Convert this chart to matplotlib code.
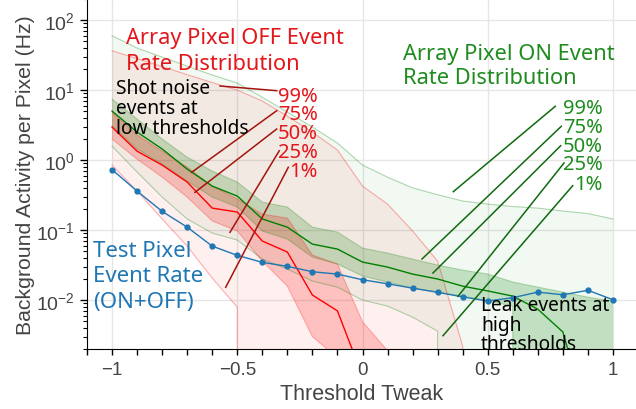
import matplotlib
matplotlib.use("Agg")
import matplotlib.pyplot as plt

# threshold tweak values (x)
threshold = [-1.0, -0.9, -0.8, -0.7, -0.6, -0.5, -0.4, -0.3, -0.2, -0.1, 0.0,
             0.1, 0.2, 0.3, 0.4, 0.5, 0.6, 0.7, 0.8, 0.9, 1.0]

# test pixel rate (ON+OFF), Hz
test_pixel = [0.73, 0.36, 0.185, 0.110, 0.059, 0.0435, 0.0346, 0.0303, 0.0254, 0.0235, 0.0195,
              0.0171, 0.0148, 0.0129, 0.0111, 0.0097, 0.0108, 0.0130, 0.0119, 0.0138, 0.0101]

# array pixel OFF event rate percentiles
off_p99 = [36.4, 28.2, 21.7, 16.6, 12.8, 10.0, 6.97, 4.25, 2.51, 1.39, 0.425,
           0.235, 0.097, 0.036, 0.0022, 0, 0, 0, 0, 0, 0]
off_p75 = [4.85, 2.28, 1.34, 0.794, 0.425, 0.277, 0.169, 0.148, 0.044, 0.0327, 0.0049,
           0.0019, 0, 0, 0, 0, 0, 0, 0, 0, 0]
off_p50 = [2.96, 1.34, 0.849, 0.485, 0.206, 0.181, 0.0697, 0.0485, 0.0118, 0.0070, 0.00082,
           0, 0, 0, 0, 0, 0, 0, 0, 0, 0]
off_p25 = [2.0, 1.03, 0.571, 0.296, 0.135, 0.097, 0.036, 0.0158, 0.0030, 0.0015, 0,
           0, 0, 0, 0, 0, 0, 0, 0, 0, 0]
off_p1 = [0.849, 0.36, 0.144, 0.059, 0.0206, 0.0079, 0, 0, 0, 0, 0,
          0, 0, 0, 0, 0, 0, 0, 0, 0, 0]

# array pixel ON event rate percentiles
on_p99 = [59.7, 39.8, 29.6, 22.0, 16.4, 12.6, 7.9, 4.85, 2.96, 1.75, 0.85,
          0.57, 0.40, 0.32, 0.26, 0.235, 0.217, 0.206, 0.187, 0.172, 0.144]
on_p75 = [7.43, 3.85, 2.0, 1.10, 0.697, 0.485, 0.251, 0.213, 0.110, 0.0936, 0.0553,
          0.0469, 0.0385, 0.0316, 0.0268, 0.0235, 0.0181, 0.0153, 0.0130, 0.0110, 0.0097]
on_p50 = [5.01, 2.51, 1.44, 0.744, 0.425, 0.306, 0.144, 0.110, 0.063, 0.0535, 0.0349,
          0.0296, 0.0235, 0.020, 0.0158, 0.0135, 0.0114, 0.0074, 0.0035, 0.0002, 0]
on_p25 = [3.06, 1.44, 0.877, 0.50, 0.296, 0.213, 0.097, 0.0743, 0.0411, 0.0327, 0.022,
          0.0181, 0.0148, 0.0130, 0.0114, 0.0097, 0.0082, 0, 0, 0, 0]
on_p1 = [1.58, 0.674, 0.296, 0.144, 0.0906, 0.072, 0.0385, 0.0277, 0.0187, 0.0153, 0.010,
         0.0082, 0.0057, 0.0036, 0, 0, 0, 0, 0, 0, 0]

GREEN = "#008000"
RED = "#ff0000"
BLUE = "#1f77b4"
OFF_TXT = "#e3161b"
ON_TXT = "#1e8c1e"
OFF_ANN = "#a3140c"
ON_ANN = "#0f6a0f"
GREY = "#444444"

plt.rcParams["font.family"] = ["Liberation Sans", "DejaVu Sans"]
plt.rcParams["mathtext.fontset"] = "custom"
plt.rcParams["mathtext.rm"] = "Liberation Sans"


def ref(xp, yp):
    # pixel position in the 636x410 reference -> axes fraction
    return ((xp - 87) / 549, (350 - yp) / 350)


fig = plt.figure(figsize=(6.36, 4.10), dpi=100)
ax = fig.add_axes([87 / 636, 60 / 410, 549 / 636, 350 / 410])
ax.set_yscale("log", nonpositive="clip")

# ON distribution
ax.fill_between(threshold, on_p1, on_p99, color=GREEN, alpha=0.05, lw=0)
ax.fill_between(threshold, on_p25, on_p75, color=GREEN, alpha=0.2, lw=0)
for edge in (on_p1, on_p99):
    ax.plot(threshold, edge, color=GREEN, alpha=0.3, lw=0.8)
for edge in (on_p25, on_p75):
    ax.plot(threshold, edge, color=GREEN, alpha=0.25, lw=0.8)

# OFF distribution
ax.fill_between(threshold, off_p1, off_p99, color=RED, alpha=0.06, lw=0)
ax.fill_between(threshold, off_p25, off_p75, color=RED, alpha=0.2, lw=0)
for edge in (off_p1, off_p99):
    ax.plot(threshold, edge, color=RED, alpha=0.3, lw=0.8)
for edge in (off_p25, off_p75):
    ax.plot(threshold, edge, color=RED, alpha=0.25, lw=0.8)

ax.plot(threshold, on_p50, color=GREEN, lw=1.0)
ax.plot(threshold, off_p50, color=RED, lw=1.0)
ax.plot(threshold, test_pixel, color=BLUE, lw=1.0, marker="o", ms=3.5)

ax.set_xlim(-1.1, 1.092)
ax.set_ylim(0.002, 200)
ax.set_xticks([-1, -0.5, 0, 0.5, 1])
ax.set_xticklabels(["\u22121", "\u22120.5", "0", "0.5", "1"])
ax.set_xticks([i / 10 for i in range(-11, 11)], minor=True)
ax.tick_params(axis="x", which="both", length=4, width=1, labelsize=13.5, colors="black",
               labelcolor=GREY, pad=5)
ax.tick_params(axis="y", which="major", length=5, width=1, labelsize=14, labelcolor=GREY)
ax.tick_params(axis="y", which="minor", length=3, width=0.8)
ax.grid(True, which="major", color="#e6e6e6", lw=1)
ax.set_axisbelow(True)
ax.spines["right"].set_visible(False)
ax.spines["top"].set_color("#e6e6e6")
ax.set_xlabel("Threshold Tweak", fontsize=15.5, color=GREY, labelpad=3)
ax.set_ylabel("Background Activity per Pixel (Hz)", fontsize=15.3, color=GREY, labelpad=1)

tf = dict(transform=ax.transAxes, family=["Noto Sans", "DejaVu Sans"])
ax.text(*ref(126, 28), "Array Pixel OFF Event\nRate Distribution", color=OFF_TXT,
        fontsize=15.7, ha="left", va="top", linespacing=1.3, **tf)
ax.text(*ref(403, 44), "Array Pixel ON Event\nRate Distribution", color=ON_TXT,
        fontsize=15.7, ha="left", va="top", linespacing=1.2, **tf)
ax.text(*ref(116, 79), "Shot noise\nevents at\nlow thresholds", color="black",
        fontsize=13.8, ha="left", va="top", linespacing=1.0, **tf)
ax.text(*ref(481, 296), "Leak events at\nhigh\nthresholds", color="black",
        fontsize=13.8, ha="left", va="top", linespacing=0.97, **tf)
ax.text(*ref(93, 241), "Test Pixel\nEvent Rate\n(ON+OFF)", color=BLUE,
        fontsize=16, ha="left", va="top", linespacing=1.28, **tf)

labels = ["99%", "75%", "50%", "25%", "1%"]
off_base = [101.5, 120.5, 139, 158, 177]
on_base = [114.3, 133.3, 152.3, 170.5, 190]
for lab, yb in zip(labels, off_base):
    ax.text(*ref(318, yb), lab, color=OFF_TXT, fontsize=14.5, ha="right", va="baseline", **tf)
for lab, yb in zip(labels, on_base):
    ax.text(*ref(603, yb), lab, color=ON_TXT, fontsize=14.5, ha="right", va="baseline", **tf)

off_lines = [((276.7, 91.7), (220, 87)), ((276.7, 111.7), (191.7, 173.3)),
             ((276.7, 130), (195, 193.3)), ((279.3, 151.7), (230, 233.3)),
             ((288.3, 168.3), (225.7, 288.3))]
on_lines = [((555.3, 107.3), (453.3, 192.7)), ((561.3, 127.3), (422, 260)),
            ((560.7, 146.7), (433, 274)), ((564, 164), (458, 297.3)),
            ((572.7, 186.7), (443, 336.7))]
for lines, col in ((off_lines, OFF_ANN), (on_lines, ON_ANN)):
    for a, b in lines:
        pa, pb = ref(*a), ref(*b)
        ax.plot([pa[0], pb[0]], [pa[1], pb[1]], color=col, lw=1.1, transform=ax.transAxes,
                clip_on=False)

fig.savefig("out.png", dpi=100)
